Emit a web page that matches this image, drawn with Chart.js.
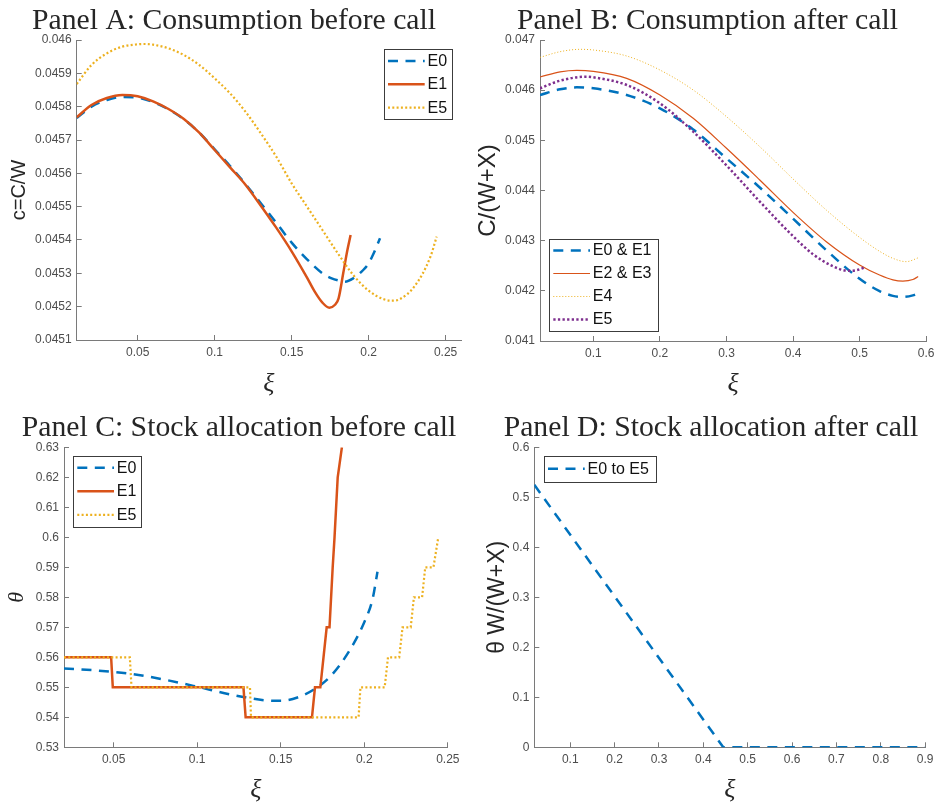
<!DOCTYPE html>
<html>
<head>
<meta charset="utf-8">
<script src="https://cdn.jsdelivr.net/npm/chart.js@4.4.0/dist/chart.umd.min.js"></script>
<style>
html,body{margin:0;padding:0;background:#fff;overflow:hidden;width:941px;height:803px;}
canvas{position:absolute;}
</style>
</head>
<body>
<canvas id="cA" width="470" height="400" style="left:0px;top:0px"></canvas>
<canvas id="cB" width="475" height="400" style="left:470px;top:0px"></canvas>
<canvas id="cC" width="470" height="403" style="left:0px;top:400px"></canvas>
<canvas id="cD" width="474" height="403" style="left:470px;top:400px"></canvas>
<script>
// ---------------- DATA ----------------
// Panel A: consumption before call, c = C/W vs xi
const A_x_E0 = [0.0104, 0.02, 0.03, 0.04, 0.05, 0.06, 0.07, 0.08, 0.09, 0.1, 0.11, 0.12, 0.13, 0.14, 0.15, 0.16, 0.17, 0.176, 0.18, 0.1846, 0.19, 0.1965, 0.2, 0.203, 0.2074];
const A_E0   = [0.045766, 0.0458, 0.04582, 0.045829, 0.045827, 0.045814, 0.045792, 0.045762, 0.045722, 0.045672, 0.045622, 0.045568, 0.04551, 0.045452, 0.045392, 0.045342, 0.0453, 0.045285, 0.045279, 0.045275, 0.045285, 0.04531, 0.04533, 0.045357, 0.045405];
const A_x_E1 = [0.0104, 0.02, 0.03, 0.04, 0.05, 0.06, 0.07, 0.08, 0.09, 0.1, 0.11, 0.12, 0.13, 0.14, 0.15, 0.16, 0.165, 0.17, 0.1745, 0.178, 0.1805, 0.1835, 0.186, 0.1883];
const A_E1   = [0.045768, 0.045805, 0.045826, 0.045835, 0.045831, 0.045816, 0.045793, 0.045763, 0.045722, 0.04567, 0.045618, 0.045566, 0.045503, 0.045437, 0.045366, 0.045287, 0.045245, 0.045212, 0.045197, 0.045205, 0.045225, 0.0453, 0.045365, 0.045415];
const A_x_E5 = [0.0104, 0.02, 0.03, 0.04, 0.05, 0.055, 0.06, 0.07, 0.08, 0.09, 0.1, 0.11, 0.12, 0.13, 0.14, 0.15, 0.16, 0.17, 0.18, 0.19, 0.2, 0.21, 0.215, 0.22, 0.23, 0.24, 0.2442];
const A_E5   = [0.045868, 0.045925, 0.04596, 0.04598, 0.045987, 0.045988, 0.045986, 0.045975, 0.045955, 0.045925, 0.045885, 0.04584, 0.045785, 0.04572, 0.04565, 0.04557, 0.0455, 0.04543, 0.04536, 0.045295, 0.045248, 0.045222, 0.045218, 0.045222, 0.045262, 0.045348, 0.04541];

// Panel B: consumption after call, C/(W+X) vs xi
const B_x_E01 = [0.0198, 0.05, 0.075, 0.1, 0.15, 0.2, 0.25, 0.3, 0.35, 0.4, 0.45, 0.5, 0.53, 0.55, 0.565, 0.58, 0.59];
const B_E01   = [0.045904, 0.046017, 0.046056, 0.046037, 0.045904, 0.045638, 0.045215, 0.04464, 0.04406, 0.04344, 0.04281, 0.04224, 0.041995, 0.0419, 0.041878, 0.04191, 0.041963];
const B_x_E23 = [0.0198, 0.05, 0.075, 0.1, 0.15, 0.2, 0.25, 0.3, 0.35, 0.4, 0.45, 0.5, 0.53, 0.55, 0.565, 0.58, 0.588];
const B_E23   = [0.046262, 0.046365, 0.046395, 0.046375, 0.046236, 0.045904, 0.045439, 0.044841, 0.04421, 0.043565, 0.04298, 0.042515, 0.042315, 0.04222, 0.042195, 0.042225, 0.042285];
const B_x_E4  = [0.0198, 0.05, 0.08, 0.1, 0.15, 0.2, 0.25, 0.3, 0.35, 0.4, 0.45, 0.5, 0.53, 0.55, 0.57, 0.59];
const B_E4    = [0.046654, 0.046767, 0.046814, 0.046801, 0.046681, 0.046402, 0.046003, 0.045472, 0.044874, 0.04423, 0.04361, 0.043065, 0.042788, 0.042648, 0.042582, 0.042668];
const B_x_E5  = [0.0198, 0.05, 0.09, 0.1, 0.15, 0.2, 0.25, 0.3, 0.35, 0.4, 0.43, 0.46, 0.4827, 0.495, 0.508];
const B_E5    = [0.046037, 0.04619, 0.046269, 0.046256, 0.046103, 0.045738, 0.045173, 0.0445, 0.04378, 0.04309, 0.04273, 0.04249, 0.0424, 0.04241, 0.04247];

// Panel C: stock allocation before call, theta vs xi
const C_x_E0 = [0.0203, 0.04, 0.06, 0.08, 0.1, 0.12, 0.14, 0.15, 0.16, 0.17, 0.18, 0.19, 0.2, 0.205, 0.2079];
const C_E0   = [0.5563, 0.5556, 0.5545, 0.5526, 0.5502, 0.5476, 0.5457, 0.5455, 0.5466, 0.5493, 0.5538, 0.5612, 0.5717, 0.5795, 0.5885];
const C_x_E1 = [0.0203, 0.0485, 0.0495, 0.1277, 0.129, 0.1687, 0.1705, 0.1737, 0.1775, 0.1792, 0.1811, 0.1822, 0.1841, 0.1866];
const C_E1   = [0.56, 0.56, 0.55, 0.55, 0.54, 0.54, 0.55, 0.55, 0.57, 0.57, 0.59, 0.60, 0.62, 0.63];
const C_x_E5 = [0.0203, 0.0597, 0.0607, 0.1316, 0.1322, 0.1966, 0.1977, 0.2122, 0.2142, 0.2209, 0.2229, 0.2278, 0.2297, 0.2346, 0.2365, 0.2414, 0.2443];
const C_E5   = [0.56, 0.56, 0.55, 0.55, 0.54, 0.54, 0.55, 0.55, 0.56, 0.56, 0.57, 0.57, 0.58, 0.58, 0.59, 0.59, 0.60];

// Panel D: stock allocation after call, theta W/(W+X) vs xi
const D_x_E05 = [0.019, 0.445, 0.9];
const D_E05   = [0.525, 0, 0];

// ---------------- STYLE / HELPERS ----------------
const AXIS = '#7a7a7a', TICKTXT = '#4d4d4d', TXT = '#262626';
const BLUE = '#0072BD', RED = '#D95319', YEL = '#EDB120', PUR = '#7E2F8E';
Chart.defaults.font.family = "'Liberation Sans', Arial, sans-serif";
const fmt = v => String(parseFloat(Number(v).toFixed(6)));
const pts = (xs, ys) => xs.map((x, i) => ({x: x, y: ys[i]}));

const boxLegend = {
  id: 'boxLegend',
  afterDatasetsDraw(chart, args, opts) {
    if (!opts || !opts.box) return;
    const ctx = chart.ctx, b = opts.box;
    const dss = chart.data.datasets, n = dss.length;
    ctx.save();
    ctx.setLineDash([]);
    ctx.fillStyle = '#ffffff';
    ctx.fillRect(b.left, b.top, b.width, b.height);
    ctx.strokeStyle = '#3c3c3c';
    ctx.lineWidth = 1;
    ctx.strokeRect(Math.round(b.left) + 0.5, Math.round(b.top) + 0.5, Math.round(b.width), Math.round(b.height));
    dss.forEach((ds, i) => {
      const cy = b.top + b.height * (i + 0.5) / n;
      ctx.beginPath();
      ctx.strokeStyle = ds.borderColor;
      ctx.lineWidth = ds.borderWidth;
      ctx.lineCap = 'butt';
      ctx.setLineDash(ds.borderDash || []);
      ctx.moveTo(b.left + 4, cy);
      ctx.lineTo(b.left + 40.7, cy);
      ctx.stroke();
      ctx.setLineDash([]);
      ctx.fillStyle = '#111111';
      ctx.font = "16px 'Liberation Sans', Arial, sans-serif";
      ctx.textBaseline = 'middle';
      ctx.textAlign = 'left';
      ctx.fillText(ds.label, b.left + 43.5, cy + 0.5);
    });
    ctx.restore();
  }
};

function makePanel(id, p) {
  const n = p.datasets.length;
  p.datasets.forEach((d, i) => {
    d.order = n - 1 - i; d.pointRadius = 0; d.pointHoverRadius = 0; d.fill = false;
    d.borderCapStyle = 'butt';
  });
  return new Chart(document.getElementById(id), {
    type: 'line',
    data: { datasets: p.datasets },
    options: {
      responsive: false, animation: false, events: [],
      layout: { padding: p.pad },
      plugins: {
        legend: { display: false },
        tooltip: { enabled: false },
        title: {
          display: true, text: p.title, color: TXT,
          font: { family: "'Liberation Serif', 'Times New Roman', serif", size: 29.7, weight: 'normal', lineHeight: 1.2 },
          padding: p.titlePad
        },
        boxLegend: { box: p.legend }
      },
      scales: {
        x: {
          type: 'linear', position: 'bottom', min: p.xmin, max: p.xmax,
          afterFit: s => { s.height = p.xHeight; },
          ticks: { stepSize: p.xstep, autoSkip: false, includeBounds: false, maxRotation: 0, padding: 10.5,
                   color: TICKTXT, font: { size: 12 }, callback: fmt },
          grid: { drawOnChartArea: false, drawTicks: true, tickLength: -5, color: AXIS, lineWidth: 1 },
          border: { display: true, color: AXIS, width: 1 },
          title: { display: true, text: 'ξ', color: TXT,
                   font: { family: "'Liberation Serif', serif", style: 'italic', size: 26, lineHeight: 1 },
                   padding: { top: 0, bottom: p.xTitlePad } }
        },
        y: {
          type: 'linear', position: 'left', min: p.ymin, max: p.ymax,
          afterFit: s => { s.width = p.yWidth; },
          ticks: { stepSize: p.ystep, autoSkip: false, includeBounds: false, padding: 10, maxTicksLimit: 30,
                   color: TICKTXT, font: { size: 12 }, callback: fmt },
          grid: { drawOnChartArea: false, drawTicks: true, tickLength: -5, color: AXIS, lineWidth: 1 },
          border: { display: true, color: AXIS, width: 1 },
          title: { display: true, text: p.ylabel, color: TXT, font: p.yfont,
                   padding: { top: p.yTitlePad, bottom: 0 } }
        }
      }
    },
    plugins: [boxLegend]
  });
}

const DASH = [10, 7.5];

makePanel('cA', {
  title: 'Panel A: Consumption before call',
  pad: { left: 7, right: 9, top: 0, bottom: 0 },
  titlePad: { top: 3.5, bottom: 0.86 },
  yWidth: 69.7, xHeight: 60, xTitlePad: 3,
  xmin: 0.0104, xmax: 0.26, xstep: 0.05,
  ymin: 0.0451, ymax: 0.046, ystep: 0.0001,
  ylabel: 'c=C/W', yfont: { size: 20, lineHeight: 1 }, yTitlePad: 2.7,
  legend: { left: 384, top: 49.3, width: 67.7, height: 70 },
  datasets: [
    { label: 'E0', data: pts(A_x_E0, A_E0), borderColor: BLUE, borderWidth: 2.5, borderDash: DASH, cubicInterpolationMode: 'monotone' },
    { label: 'E1', data: pts(A_x_E1, A_E1), borderColor: RED, borderWidth: 2.5, cubicInterpolationMode: 'monotone' },
    { label: 'E5', data: pts(A_x_E5, A_E5), borderColor: YEL, borderWidth: 2.2, borderDash: [2, 2.3], cubicInterpolationMode: 'monotone' }
  ]
});

makePanel('cB', {
  title: 'Panel B: Consumption after call',
  pad: { left: 14.3, right: 14.3, top: 0, bottom: 0 },
  titlePad: { top: 3.5, bottom: 0.86 },
  yWidth: 55.7, xHeight: 59, xTitlePad: 3,
  xmin: 0.0198, xmax: 0.6, xstep: 0.1,
  ymin: 0.041, ymax: 0.047, ystep: 0.001,
  ylabel: 'C/(W+X)', yfont: { size: 24, lineHeight: 1 }, yTitlePad: -8,
  legend: { left: 79.3, top: 239, width: 109, height: 92 },
  datasets: [
    { label: 'E0 & E1', data: pts(B_x_E01, B_E01), borderColor: BLUE, borderWidth: 2.5, borderDash: DASH, cubicInterpolationMode: 'monotone' },
    { label: 'E2 & E3', data: pts(B_x_E23, B_E23), borderColor: RED, borderWidth: 1.2, cubicInterpolationMode: 'monotone' },
    { label: 'E4', data: pts(B_x_E4, B_E4), borderColor: YEL, borderWidth: 1, borderDash: [1, 2], cubicInterpolationMode: 'monotone' },
    { label: 'E5', data: pts(B_x_E5, B_E5), borderColor: PUR, borderWidth: 2.5, borderDash: [2.3, 2.3], cubicInterpolationMode: 'monotone' }
  ]
});

makePanel('cC', {
  title: 'Panel C: Stock allocation before call',
  pad: { left: 19.7, right: 11.7, top: 0, bottom: 0 },
  titlePad: { top: 10.2, bottom: 1.46 },
  yWidth: 44.3, xHeight: 55.7, xTitlePad: 0,
  xmin: 0.0203, xmax: 0.25, xstep: 0.05,
  ymin: 0.53, ymax: 0.63, ystep: 0.01,
  ylabel: 'θ', yfont: { family: "'Liberation Serif', serif", style: 'italic', size: 22, lineHeight: 1 }, yTitlePad: -13.2,
  legend: { left: 73.3, top: 56, width: 68.4, height: 70.7 },
  datasets: [
    { label: 'E0', data: pts(C_x_E0, C_E0), borderColor: BLUE, borderWidth: 2.5, borderDash: DASH, cubicInterpolationMode: 'monotone' },
    { label: 'E1', data: pts(C_x_E1, C_E1), borderColor: RED, borderWidth: 2.5 },
    { label: 'E5', data: pts(C_x_E5, C_E5), borderColor: YEL, borderWidth: 2.2, borderDash: [2, 2.3] }
  ]
});

makePanel('cD', {
  title: 'Panel D: Stock allocation after call',
  pad: { left: 22.7, right: 14.7, top: 0, bottom: 0 },
  titlePad: { top: 10.2, bottom: 1.46 },
  yWidth: 41.6, xHeight: 55.7, xTitlePad: 0,
  xmin: 0.019, xmax: 0.9, xstep: 0.1,
  ymin: 0, ymax: 0.6, ystep: 0.1,
  ylabel: 'θ W/(W+X)', yfont: { size: 23, lineHeight: 1 }, yTitlePad: -6.7,
  legend: { left: 74, top: 56, width: 112, height: 25.7 },
  datasets: [
    { label: 'E0 to E5', data: pts(D_x_E05, D_E05), borderColor: BLUE, borderWidth: 2.5, borderDash: DASH }
  ]
});
</script>
</body>
</html>
